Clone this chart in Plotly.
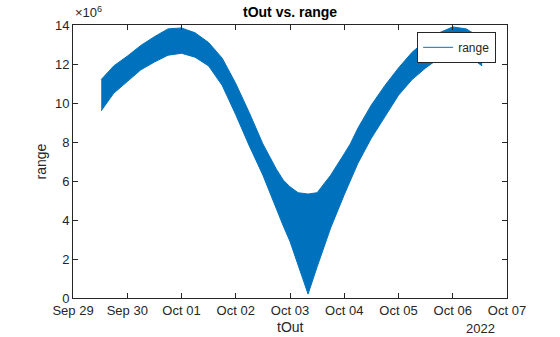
import plotly.graph_objects as go

# Sample times
t_out = [
    "2022-09-29 12:29", "2022-09-29 18:00", "2022-09-30 00:00", "2022-09-30 06:00",
    "2022-09-30 12:00", "2022-09-30 18:00", "2022-10-01 00:00", "2022-10-01 06:00",
    "2022-10-01 12:00", "2022-10-01 18:00", "2022-10-02 00:00", "2022-10-02 06:00",
    "2022-10-02 12:00", "2022-10-02 18:00", "2022-10-02 21:00", "2022-10-03 00:00",
    "2022-10-03 03:36", "2022-10-03 08:00", "2022-10-03 12:00", "2022-10-03 16:20",
    "2022-10-03 18:00", "2022-10-04 00:00", "2022-10-04 02:40", "2022-10-04 06:00",
    "2022-10-04 12:00", "2022-10-04 18:00", "2022-10-05 00:00", "2022-10-05 06:00",
    "2022-10-05 12:00", "2022-10-05 18:00", "2022-10-06 00:00", "2022-10-06 06:00",
    "2022-10-06 13:00",
]
# Upper / lower extent of the fast oscillation of range (units of 1e6)
range_upper = [
    11.2, 11.9, 12.4, 12.95, 13.4, 13.8, 13.85, 13.6, 13.1, 12.3,
    11.0, 9.5, 7.9, 6.6, 6.05, 5.7, 5.4, 5.33, 5.4, 6.05,
    6.3, 7.4, 7.9, 8.7, 9.9, 10.9, 11.8, 12.6, 13.2, 13.6,
    13.9, 13.8, 13.3,
]
range_lower = [
    9.6, 10.5, 11.1, 11.7, 12.1, 12.45, 12.55, 12.35, 11.9, 10.9,
    9.4, 7.8, 6.3, 4.5, 3.7, 2.9, 1.7, 0.2, 1.6, 3.0,
    3.6, 5.3, 6.05, 6.9, 8.2, 9.3, 10.4, 11.2, 11.8, 12.3,
    12.55, 12.5, 11.9,
]

y_ticks = [0, 2, 4, 6, 8, 10, 12, 14]

BLUE = "#0072BD"
AX = "#262626"
FONT = "Liberation Sans, Arial, sans-serif"

fig = go.Figure()
fig.add_trace(go.Scatter(
    x=t_out, y=range_lower, mode="lines", name="range",
    line=dict(color=BLUE, width=1), showlegend=True,
))
fig.add_trace(go.Scatter(
    x=t_out, y=range_upper, mode="lines", name="range",
    line=dict(color=BLUE, width=1), fill="tonexty", fillcolor=BLUE,
    showlegend=False,
))

axis_common = dict(
    showline=True, linecolor=AX, linewidth=1, mirror="ticks",
    ticks="inside", ticklen=5, tickcolor=AX, showgrid=False, zeroline=False,
    tickfont=dict(family=FONT, size=13, color=AX),
)

fig.update_layout(
    width=560, height=337,
    margin=dict(l=73, r=53, t=25, b=39),
    paper_bgcolor="white", plot_bgcolor="white",
    font=dict(family=FONT, color=AX),
    xaxis=dict(type="date", range=["2022-09-29", "2022-10-07"],
               tick0="2022-09-29", dtick=86400000, tickformat="%b %d",
               **axis_common),
    yaxis=dict(range=[0, 14], tickvals=y_ticks, **axis_common),
    legend=dict(x=0.975, xanchor="right", y=0.975, yanchor="top",
                bordercolor=AX, borderwidth=1, bgcolor="white",
                font=dict(family=FONT, size=12, color=AX),
                tracegroupgap=0),
    annotations=[
        dict(text="<b>tOut vs. range</b>", xref="paper", yref="paper",
             x=0.5, y=1.0, yshift=13, xanchor="center", yanchor="middle",
             showarrow=False, font=dict(family=FONT, size=14, color="black")),
        dict(text="tOut", xref="paper", yref="paper", x=0.5, y=0,
             yshift=-29, xanchor="center", yanchor="middle", showarrow=False,
             font=dict(family=FONT, size=14, color=AX)),
        dict(text="range", xref="paper", yref="paper", x=0, xshift=-33,
             y=0.5, xanchor="center", yanchor="middle", textangle=-90,
             showarrow=False, font=dict(family=FONT, size=14, color=AX)),
        dict(text="×10<sup>6</sup>", xref="paper", yref="paper", x=0, y=1,
             yshift=3, xanchor="left", yanchor="bottom", showarrow=False,
             font=dict(family=FONT, size=13, color=AX)),
        dict(text="2022", xref="paper", yref="paper", x=0.94, y=0,
             yshift=-30, xanchor="center", yanchor="middle", showarrow=False,
             font=dict(family=FONT, size=13, color=AX)),
    ],
)

fig.write_html("out.html")
